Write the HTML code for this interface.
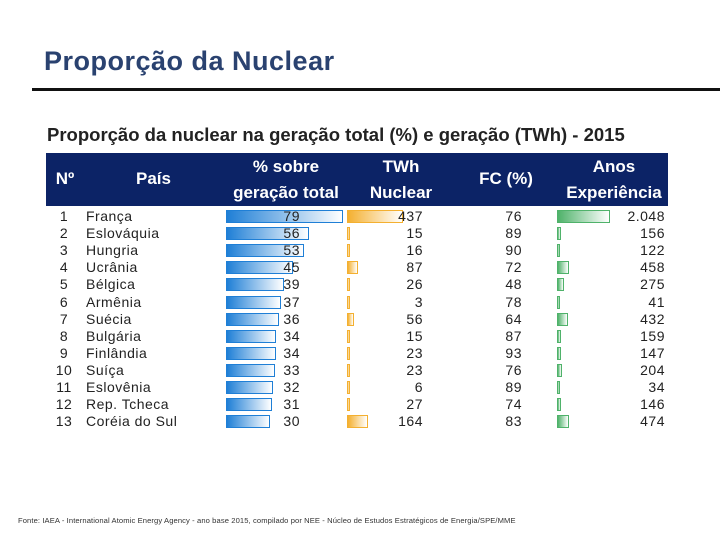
<!DOCTYPE html>
<html><head><meta charset="utf-8"><style>
body{margin:0;width:720px;height:540px;background:#fff;font-family:"Liberation Sans",sans-serif;position:relative;overflow:hidden}
.abs{position:absolute}
#title{left:44px;top:46px;font-size:27px;font-weight:bold;color:#2a4270;letter-spacing:0.5px}
#rule{left:32px;top:88px;width:688px;height:3px;background:#111}
#sub{left:47px;top:124px;font-size:18.5px;font-weight:bold;color:#222}
#head{left:46px;top:153px;width:622px;height:53px;background:#0c2366;color:#fff;font-weight:bold;font-size:17px}
#head div{position:absolute;text-align:center;line-height:26px}
.row{position:absolute;left:0;width:720px;height:17px;font-size:14px;color:#222;letter-spacing:0.5px}
.row span{position:absolute;line-height:17px}
.bar{position:absolute;height:13px;top:2px}
#foot{left:18px;top:516px;font-size:7.6px;color:#333;letter-spacing:0.1px}
</style></head><body>
<div id="title" class="abs">Proporção da Nuclear</div>
<div id="rule" class="abs"></div>
<div id="sub" class="abs">Proporção da nuclear na geração total (%) e geração (TWh) - 2015</div>
<div id="head" class="abs">
<div style="left:0;width:38px;top:13px">Nº</div>
<div style="left:80px;width:55px;top:13px">País</div>
<div style="left:175px;width:130px;top:1px">% sobre<br>geração total</div>
<div style="left:305px;width:100px;top:1px">TWh<br>Nuclear</div>
<div style="left:420px;width:80px;top:13px">FC (%)</div>
<div style="left:508px;width:120px;top:1px">Anos<br>Experiência</div>
</div>
<div id="rows"></div>
<div id="foot" class="abs">Fonte: IAEA - International Atomic Energy Agency - ano base 2015, compilado por NEE - Núcleo de Estudos Estratégicos de Energia/SPE/MME</div>
<script>
const countries=["França","Eslováquia","Hungria","Ucrânia","Bélgica","Armênia","Suécia","Bulgária","Finlândia","Suíça","Eslovênia","Rep. Tcheca","Coréia do Sul"];
const pct=[79,56,53,45,39,37,36,34,34,33,32,31,30];
const twh=[437,15,16,87,26,3,56,15,23,23,6,27,164];
const fc=[76,89,90,72,48,78,64,87,93,76,89,74,83];
const anos=[2048,156,122,458,275,41,432,159,147,204,34,146,474];
const rows=document.getElementById('rows');
const maxP=Math.max(...pct),maxT=Math.max(...twh),maxA=Math.max(...anos);
function grad(c){return 'linear-gradient(90deg,'+c+',#fff)';}
countries.forEach((c,i)=>{
 const r=document.createElement('div');r.className='row';r.style.top=(208+i*17.1)+'px';
 
 
 const add=(html,style,name)=>{const s=document.createElement('span');s.innerHTML=html;s.style.cssText=style;
  
  
  r.appendChild(s);};
 const bar=(x,w,col,bd,name)=>{const b=document.createElement('div');b.className='bar';
  b.style.cssText='left:'+x+'px;width:'+Math.max(w,3)+'px;background:'+grad(col)+';border:1px solid '+bd+';box-sizing:border-box';
  
  
  r.appendChild(b);};
 bar(226,117*pct[i]/maxP,'#1f7fd6','#1f7fd6','pct-bar');
 bar(347,56*twh[i]/maxT,'#f4b030','#f4b030','twh-bar');
 bar(557,53*anos[i]/maxA,'#4fb26a','#4fb26a','anos-bar');
 add(String(i+1),'left:50px;width:28px;text-align:center','row-number');
 add(c,'left:86px','country-name');
 add(String(pct[i]),'left:250px;width:50px;text-align:right','pct-value');
 add(String(twh[i]),'left:373px;width:50px;text-align:right','twh-value');
 add(String(fc[i]),'left:472px;width:50px;text-align:right','fc-value');
 add(anos[i].toLocaleString('pt-BR'),'left:605px;width:60px;text-align:right','anos-value');
 rows.appendChild(r);
});
</script>
</body></html>
